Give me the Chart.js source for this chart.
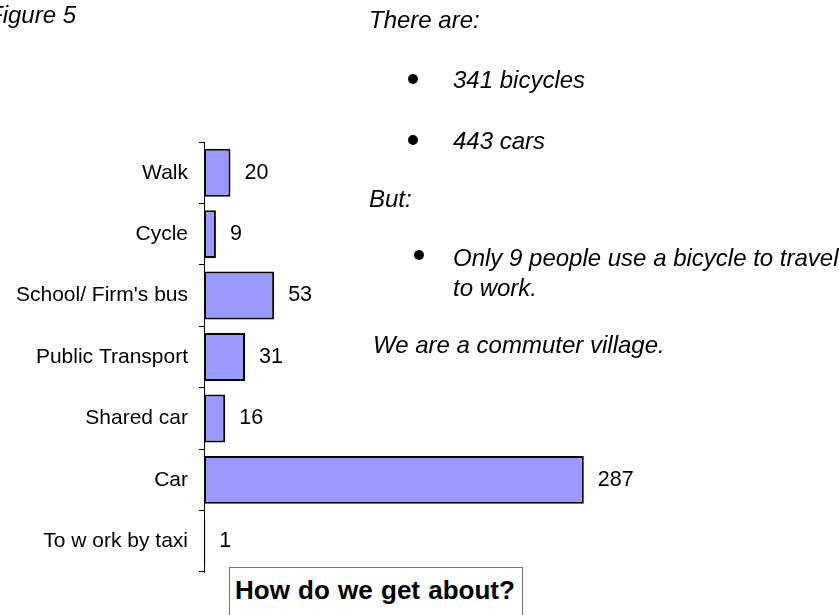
<!DOCTYPE html>
<html>
<head>
<meta charset="utf-8">
<script src="https://cdn.jsdelivr.net/npm/chart.js@4"></script>
<style>
    html, body { margin: 0; padding: 0; background: #fff; overflow: hidden; }
    #wrap { position: relative; width: 839px; height: 615px; }
    #chart { position: absolute; left: 0; top: 0; }
    .note { position: absolute; font-family: "Liberation Sans", Arial, sans-serif; font-style: italic;
            font-size: 24px; line-height: 24px; color: #000; white-space: nowrap; }
    .bullet { position: absolute; width: 10px; height: 10px; border-radius: 50%; background: #000; }
    #titleBox { position: absolute; left: 229px; top: 567px; width: 294px; height: 60px;
                border: 1px solid #777; box-sizing: border-box; background: #fff;
                font-family: "Liberation Sans", Arial, sans-serif; font-weight: bold; font-size: 26px; }
    #titleBox span { position: absolute; left: 5px; top: 9px; line-height: 26px; word-spacing: 1px; }
</style>
</head>
<body>
<div id="wrap">
    <canvas id="chart" width="839" height="615"></canvas>
    <div class="note" style="left:-12px; top:3px;">Figure 5</div>
    <div class="note" style="left:369px; top:8px;">There are:</div>
    <div class="bullet" style="left:408px; top:74px;"></div>
    <div class="note" style="left:453px; top:68px;">341 bicycles</div>
    <div class="bullet" style="left:408px; top:135px;"></div>
    <div class="note" style="left:453px; top:129px;">443 cars</div>
    <div class="note" style="left:369px; top:187px;">But:</div>
    <div class="bullet" style="left:414px; top:250px;"></div>
    <div class="note" style="left:453px; top:246px;">Only 9 people use a bicycle to travel</div>
    <div class="note" style="left:453px; top:276px;">to work.</div>
    <div class="note" style="left:373px; top:333px;">We are a commuter village.</div>
    <div id="titleBox"><span>How do we get about?</span></div>
</div>
<script>
    // Chart data
    const categories = ["Walk", "Cycle", "School/ Firm's bus", "Public Transport", "Shared car", "Car", "To w ork by taxi"];
    const journeys = [20, 9, 53, 31, 16, 287, 1];

    const fontFamily = "'Liberation Sans', Arial, sans-serif";

    // Draw value next to the end of each bar
    const valueLabels = {
        id: "valueLabels",
        afterDatasetsDraw(chart) {
            const ctx = chart.ctx;
            const meta = chart.getDatasetMeta(0);
            ctx.save();
            ctx.font = "21.5px " + fontFamily;
            ctx.fillStyle = "#000";
            ctx.textBaseline = "middle";
            ctx.textAlign = "left";
            meta.data.forEach((bar, i) => {
                ctx.fillText(String(journeys[i]), bar.x + 14, bar.y);
            });
            ctx.restore();
        }
    };

    const ctx = document.getElementById("chart").getContext("2d");
    new Chart(ctx, {
        type: "bar",
        data: {
            labels: categories,
            datasets: [{
                data: journeys,
                backgroundColor: "#9999ff",
                borderColor: "#000",
                borderWidth: 2,
                borderSkipped: false,
                barPercentage: 0.78,
                categoryPercentage: 1,
            }],
        },
        options: {
            indexAxis: "y",
            responsive: false,
            animation: false,
            layout: { padding: { top: 142, bottom: 43, left: 0, right: 238 } },
            plugins: { legend: { display: false }, tooltip: { enabled: false } },
            scales: {
                x: { display: false, min: 0, max: 300 },
                y: {
                    afterFit(scale) { scale.width = 204; },
                    grid: { drawOnChartArea: false, drawTicks: true, tickLength: 5, color: "#000", offset: true },
                    border: { display: true, color: "#000", width: 1 },
                    ticks: { color: "#000", padding: 11, font: { family: fontFamily, size: 21 } },
                },
            },
        },
        plugins: [valueLabels],
    });
</script>
</body>
</html>
